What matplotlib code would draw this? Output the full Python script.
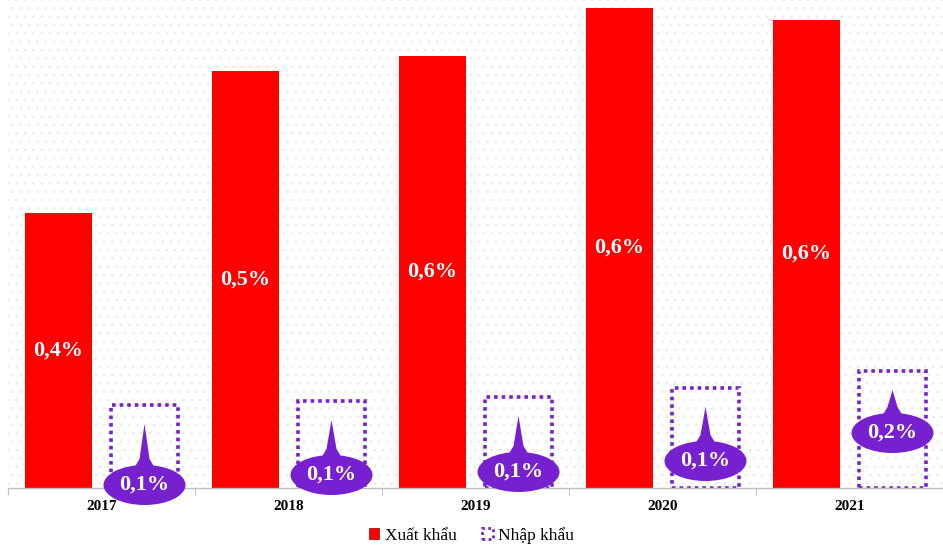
import numpy as np
import matplotlib.pyplot as plt
from matplotlib.patches import Rectangle, Ellipse, Polygon, Patch
from matplotlib.transforms import IdentityTransform

plt.rcParams['font.family'] = ['Liberation Serif', 'DejaVu Serif']
plt.rcParams['hatch.linewidth'] = 0.5

# %% data
years = ["2017", "2018", "2019", "2020", "2021"]
export_vals = [2.75, 4.17, 4.32, 4.80, 4.68]   # bar heights (relative)
import_vals = [0.83, 0.87, 0.91, 1.00, 1.17]
export_labels = ["0,4%", "0,5%", "0,6%", "0,6%", "0,6%"]
import_labels = ["0,1%", "0,1%", "0,1%", "0,1%", "0,2%"]

# pixel drop of each callout bubble below the bar top
bubble_drop = [80, 74, 75, 73, 62]

red = "#FF0000"
purple = "#7620D0"

# %% figure
fig = plt.figure(figsize=(9.43, 5.48), dpi=100)
ax = fig.add_axes([8 / 943, 1 - 488 / 548, 935 / 943, 488 / 548])
ax.set_xlim(0, len(years))
ax.set_ylim(0, 4.88)

# faint dotted background
bg = Rectangle((0, 0), 1, 1, transform=ax.transAxes, facecolor="white",
               edgecolor="#e8e8e8", hatch="..", linewidth=0, zorder=0)
ax.add_patch(bg)

x = np.arange(len(years)) + 0.5
w = 0.36
off = 0.23

ax.bar(x - off, export_vals, width=w, color=red, zorder=2)
ax.bar(x + off, import_vals, width=w, facecolor="none", edgecolor=purple,
       linewidth=2.6, linestyle=(0, (1, 1.1)), zorder=2)

for xi, v, lab in zip(x, export_vals, export_labels):
    ax.text(xi - off, v / 2, lab, color="white", fontsize=16, fontweight="bold",
            ha="center", va="center", zorder=3)

# axis styling
for s in ["top", "right", "left"]:
    ax.spines[s].set_visible(False)
ax.spines["bottom"].set_color("#bfbfbf")
ax.spines["bottom"].set_linewidth(1.0)
ax.set_yticks([])
ax.set_xticks(np.arange(len(years) + 1))
ax.set_xticklabels([])
ax.tick_params(axis="x", which="major", length=5, color="#bfbfbf")
ax.set_xticks(x, minor=True)
ax.set_xticklabels(years, minor=True, fontsize=11, fontweight="bold")
ax.tick_params(axis="x", which="minor", length=0, pad=9)

# callout bubbles (drawn in pixel space)
fig.canvas.draw()
for xi, v, lab, drop in zip(x, import_vals, import_labels, bubble_drop):
    px, py = ax.transData.transform((xi + off, v))
    tip_y = py - 19
    cy = py - drop
    ew, eh = 82, 40
    top_y = cy + eh / 2 - 4
    spike = Polygon([(px - 11, top_y), (px - 5, top_y + 10), (px, tip_y),
                     (px + 5, top_y + 10), (px + 11, top_y)], closed=True,
                    facecolor=purple, edgecolor="none", transform=IdentityTransform(),
                    zorder=4, clip_on=False)
    ell = Ellipse((px, cy), ew, eh, facecolor=purple, edgecolor="none",
                  transform=IdentityTransform(), zorder=4, clip_on=False)
    fig.add_artist(spike)
    fig.add_artist(ell)
    fig.text(px / fig.bbox.width, cy / fig.bbox.height, lab, color="white",
             fontsize=16, fontweight="bold", ha="center", va="center", zorder=5)

handles = [
    Patch(facecolor=red, edgecolor="#990000", linewidth=0.5, label="Xuất khẩu"),
    Patch(facecolor="none", edgecolor=purple, linewidth=2, linestyle=(0, (1, 1.2)),
          label="Nhập khẩu"),
]
fig.legend(handles=handles, loc="center", bbox_to_anchor=(0.5, 0.023), ncol=2,
           frameon=False, fontsize=12.5, handlelength=0.6, handleheight=0.6,
           handletextpad=0.3, columnspacing=1.5)

fig.savefig("out.png", dpi=100)
